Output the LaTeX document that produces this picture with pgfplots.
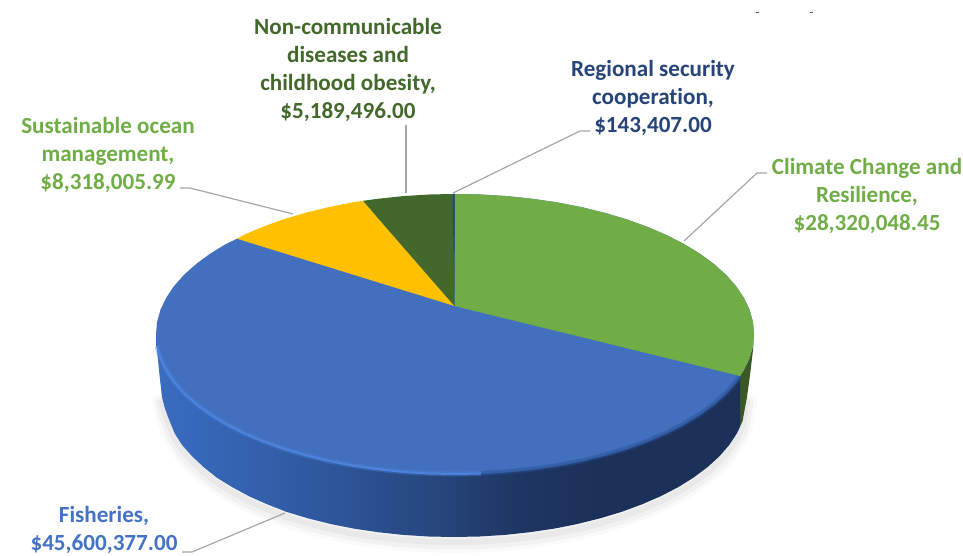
\documentclass[border=0pt]{standalone}
\usepackage{fontspec}
\setmainfont{Carlito}[Ligatures=NoCommon]
\usepackage{pgfplots}
\usepackage{pgfplotstable}
\pgfplotsset{compat=1.18}

\definecolor{fishblue}{HTML}{4270BF}
\definecolor{labblue}{HTML}{4472C4}
\definecolor{climgreen}{HTML}{70AD47}
\definecolor{ncdgreen}{HTML}{43682B}
\definecolor{oceanyel}{HTML}{FFC000}
\definecolor{secnavy}{HTML}{264478}
\definecolor{leader}{HTML}{A6A6A6}
\definecolor{rimlight}{HTML}{4C83DD}
\definecolor{sA}{HTML}{3A6CC0}
\definecolor{sB}{HTML}{315EA8}
\definecolor{sC}{HTML}{2A4F8E}
\definecolor{sD}{HTML}{264478}
\definecolor{sE}{HTML}{1E3663}
\definecolor{sF}{HTML}{1C315A}
\pgfdeclarehorizontalshading{blueside}{100bp}{color(0bp)=(sA); color(25bp)=(sA); color(35.5bp)=(sB); color(44bp)=(sC); color(50bp)=(sD); color(56bp)=(sE); color(62.5bp)=(sF); color(100bp)=(sF)}

\tikzset{
    lab/.style={font=\fontsize{23.1}{28}\selectfont\bfseries, align=center, inner sep=0pt},
    lead/.style={draw=leader, line width=1.2pt},
}

% bottom outline of the pie, pixels of the reference
\pgfplotstableread{
x y
162 397
164.5 407
168 417
174.5 433
182 444.9
192 456.2
203.5 467
217 477.8
232 487
249.5 496.5
267 504.2
286 511.7
307.5 518.2
330.2 523.9
353.8 528.6
378.2 532.2
403.1 534.9
428.5 536.5
454 537
479.5 536.5
504.9 534.9
529.8 532.2
554.2 528.6
577.8 523.9
600.5 518.2
622.1 511.7
642.3 504.2
661.2 496
678.5 487
694 477.3
707.7 467
719.5 456.2
729.3 444.9
737 433.2
742.5 421.3
747 397
}\bottomarc

% front rim of the top face, left part
\pgfplotstableread{
x y
157.1 346.2
160.5 358.3
166.2 370.2
174 381.9
184 393.2
196.1 404
210.1 414.3
226 424
243.6 433
262.8 441.2
283.5 448.7
305.5 455.2
328.6 460.9
352.7 465.6
377.6 469.2
403.1 471.9
428.9 473.5
455 474
481.1 473.5
}\rimleft

% front rim of the top face, right part
\pgfplotstableread{
x y
481.1 473.5
506.9 471.9
532.4 469.2
557.3 465.6
581.4 460.9
604.5 455.2
626.5 448.7
647.2 441.2
666.4 433
684 424
699.9 414.3
713.9 404
726 393.2
736 381.9
740 376
}\rimright

\begin{document}
\begin{tikzpicture}
\useasboundingbox (0,0) rectangle (963pt,556pt);
\begin{axis}[
    at={(0,0)},
    anchor=south west,
    scale only axis,
    width=963pt,
    height=556pt,
    xmin=0, xmax=963,
    ymin=0, ymax=556,
    y dir=reverse,
    hide axis,
    clip=false,
]
% soft shadow
\addplot[draw=black, opacity=0.02, line width=20pt, line join=round, line cap=round, yshift=-6pt] table {\bottomarc};
\addplot[draw=black, opacity=0.03, line width=13pt, line join=round, line cap=round, yshift=-6pt] table {\bottomarc};
\addplot[draw=black, opacity=0.04, line width=6pt, line join=round, line cap=round, yshift=-5pt] table {\bottomarc};

% side wall, green sliver
\addplot[draw=none, fill=ncdgreen!85!black] coordinates {
(740,376) (743.8,370.2) (749.5,358.3) (752.9,346.2) (754,334) (753,350) (750,375) (747,397) (742.5,421.3) (738,431) (736,400)
} -- cycle;

% side wall, blue
\addplot[draw=none, shade, shading=blueside] coordinates {
(156,334) (157,350) (159.5,375) (162,397) (164.5,407) (168,417) (174.5,433) (182,444.9) (192,456.2) (203.5,467)
(217,477.8) (232,487) (249.5,496.5) (267,504.2) (286,511.7) (307.5,518.2) (330.2,523.9) (353.8,528.6) (378.2,532.2)
(403.1,534.9) (428.5,536.5) (454,537) (479.5,536.5) (504.9,534.9) (529.8,532.2) (554.2,528.6) (577.8,523.9) (600.5,518.2)
(622.1,511.7) (642.3,504.2) (661.2,496) (678.5,487) (694,477.3) (707.7,467) (719.5,456.2) (729.3,444.9) (737,433.2) (740,426)
(740,376) (455,340)
} -- cycle;

% top face, blue slice (whole ellipse first)
\addplot[draw=none, fill=fishblue] coordinates {
(455,194) (481.1,194.5) (506.9,196.1) (532.4,198.8) (557.3,202.4) (581.4,207.1) (604.5,212.8) (626.5,219.3) (647.2,226.8)
(666.4,235) (684,244) (699.9,253.7) (713.9,264) (726,274.8) (736,286.1) (743.8,297.8) (749.5,309.7) (752.9,321.8) (754,334)
(752.9,346.2) (749.5,358.3) (743.8,370.2) (740,376) (736,381.9) (726,393.2) (713.9,404) (699.9,414.3) (684,424) (666.4,433)
(647.2,441.2) (626.5,448.7) (604.5,455.2) (581.4,460.9) (557.3,465.6) (532.4,469.2) (506.9,471.9) (481.1,473.5) (455,474)
(428.9,473.5) (403.1,471.9) (377.6,469.2) (352.7,465.6) (328.6,460.9) (305.5,455.2) (283.5,448.7) (262.8,441.2) (243.6,433)
(226,424) (210.1,414.3) (196.1,404) (184,393.2) (174,381.9) (166.2,370.2) (160.5,358.3) (157.1,346.2) (156,334)
(157.1,321.8) (160.5,309.7) (166.2,297.8) (174,286.1) (184,274.8) (196.1,264) (210.1,253.7) (226,244) (237,238.7)
} -- cycle;

% rim highlight
\addplot[draw=rimlight, opacity=0.35, line width=5pt] table {\rimleft};
\addplot[draw=rimlight, line width=2pt] table {\rimleft};
\addplot[draw=sC, opacity=0.45, line width=5pt] table {\rimright};
\addplot[draw=sB, line width=1.5pt] table {\rimright};

% yellow slice
\addplot[draw=none, fill=oceanyel] coordinates {
(454.5,306) (237,238.7) (243.6,235) (262.8,226.8) (283.5,219.3) (305.5,212.8) (328.6,207.1) (352.7,202.4) (363,200.8)
} -- cycle;

% dark green slice
\addplot[draw=none, fill=ncdgreen] coordinates {
(454.5,306) (363,200.8) (377.6,198.8) (403.1,196.1) (428.9,194.5) (452.5,194)
} -- cycle;

% navy sliver
\addplot[draw=none, fill=secnavy] coordinates {(454.5,306) (452.5,194) (455.2,194) (455.2,306)} -- cycle;

% green slice
\addplot[draw=none, fill=climgreen] coordinates {
(454.5,306) (455,194) (481.1,194.5) (506.9,196.1) (532.4,198.8) (557.3,202.4) (581.4,207.1) (604.5,212.8) (626.5,219.3)
(647.2,226.8) (666.4,235) (684,244) (699.9,253.7) (713.9,264) (726,274.8) (736,286.1) (743.8,297.8) (749.5,309.7)
(752.9,321.8) (754,334) (752.9,346.2) (749.5,358.3) (743.8,370.2) (740,376)
} -- cycle;

% leader lines
\addplot[lead] coordinates {(180,188) (190,188) (293,214)};
\addplot[lead] coordinates {(406,125) (406,193)};
\addplot[lead] coordinates {(590,131) (580,131) (453,193)};
\addplot[lead] coordinates {(767,173) (757,173) (684,241)};
\addplot[lead] coordinates {(182,552) (192,552) (285,513)};

% specks at the top edge
\addplot[draw=black!70, line width=1pt] coordinates {(756,13) (759,13)};
\addplot[draw=black!70, line width=1pt] coordinates {(810,13) (813,13)};

\node[lab, text=ncdgreen] at (axis cs:348,70) {Non-communicable\\diseases and\\childhood obesity,\\\$5,189,496.00};
\node[lab, text=climgreen] at (axis cs:108,154.5) {Sustainable ocean\\management,\\\$8,318,005.99};
\node[lab, text=secnavy] at (axis cs:653,98) {Regional security\\cooperation,\\\$143,407.00};
\node[lab, text=climgreen] at (axis cs:867,195.5) {Climate Change and\\Resilience,\\\$28,320,048.45};
\node[lab, text=labblue] at (axis cs:104,530) {Fisheries,\\\$45,600,377.00};
\end{axis}
\end{tikzpicture}
\end{document}
